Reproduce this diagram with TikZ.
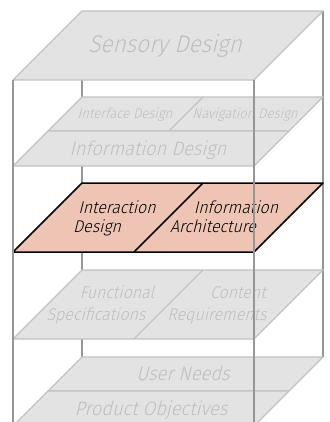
\documentclass[tikz,border=0pt]{standalone}
\usepackage{fontspec}
\newfontfamily\planefont[FakeStretch=0.94,FakeSlant=0.25]{Fira Sans Light}
\usepackage{tikz}
\definecolor{planefill}{HTML}{E3E3E3}
\definecolor{planeedge}{HTML}{C2C2C2}
\definecolor{planetext}{HTML}{BEBEBE}
\definecolor{postline}{HTML}{969696}
\definecolor{focusfill}{HTML}{EEC5B5}
\tikzset{plane/.style={fill=planefill,draw=planeedge,line width=1.2pt,line join=round}}
\tikzset{focus/.style={fill=focusfill,draw=black,line width=1.5pt,line join=round}}
\tikzset{post/.style={draw=postline,line width=2.4pt}}
\tikzset{greylabel/.style={anchor=base,inner sep=0pt,text=planetext,font=\planefont}}
\tikzset{darklabel/.style={anchor=base,inner sep=0pt,text=black,font=\planefont\fontsize{17}{19}\selectfont}}

\begin{document}
\begin{tikzpicture}[x=1pt,y=-1pt]
    \useasboundingbox (0,0) rectangle (329,422);
    % back posts
    \draw[post] (82,11) -- (82,357);
    \draw[post] (323,11) -- (323,357);
    % surface
    \draw[plane] (82,11) -- (323,11) -- (254,80) -- (13,80) -- cycle;
    \node[greylabel,font=\planefont\fontsize{24}{26}\selectfont] (sensory) at (165,53) {Sensory Design};
    % skeleton
    \draw[plane] (82,97) -- (323,97) -- (289,131) -- (48,131) -- cycle;
    \draw[plane] (203,97) -- (169,131);
    \node[greylabel,font=\planefont\fontsize{14}{16}\selectfont] (interface) at (125,119) {Interface Design};
    \node[greylabel,font=\planefont\fontsize{14}{16}\selectfont] (navigation) at (245,119) {Navigation Design};
    \draw[plane] (48,131) -- (289,131) -- (254,166) -- (13,166) -- cycle;
    \node[greylabel,font=\planefont\fontsize{19.5}{22}\selectfont] (infodesign) at (148,155) {Information Design};
    % structure
    \draw[focus] (82,183) -- (323,183) -- (254,252) -- (13,252) -- cycle;
    \draw[focus] (203,183) -- (134,252);
    \node[darklabel] (ixd1) at (117,213) {Interaction};
    \node[darklabel] (ixd2) at (97,232) {Design};
    \node[darklabel] (ia1) at (236,213) {Information};
    \node[darklabel] (ia2) at (213,232) {Architecture};
    % scope
    \draw[plane] (82,270) -- (323,270) -- (254,339) -- (13,339) -- cycle;
    \draw[plane] (203,270) -- (134,339);
    \node[greylabel,font=\planefont\fontsize{17}{19}\selectfont] (func1) at (117,298) {Functional};
    \node[greylabel,font=\planefont\fontsize{17}{19}\selectfont] (func2) at (96,320) {Specifications};
    \node[greylabel,font=\planefont\fontsize{17}{19}\selectfont] (cont1) at (238,298) {Content};
    \node[greylabel,font=\planefont\fontsize{17}{19}\selectfont] (cont2) at (217,320) {Requirements};
    % strategy
    \draw[plane] (82,357) -- (323,357) -- (289,391) -- (48,391) -- cycle;
    \node[greylabel,font=\planefont\fontsize{19.5}{22}\selectfont] (needs) at (183,380) {User Needs};
    \draw[plane] (48,391) -- (289,391) -- (254,426) -- (13,426) -- cycle;
    \node[greylabel,font=\planefont\fontsize{19.5}{22}\selectfont] (objectives) at (151,415) {Product Objectives};
    % front posts
    \draw[post] (13,80) -- (13,422);
    \draw[post] (254,80) -- (254,422);
  \end{tikzpicture}
\end{document}
